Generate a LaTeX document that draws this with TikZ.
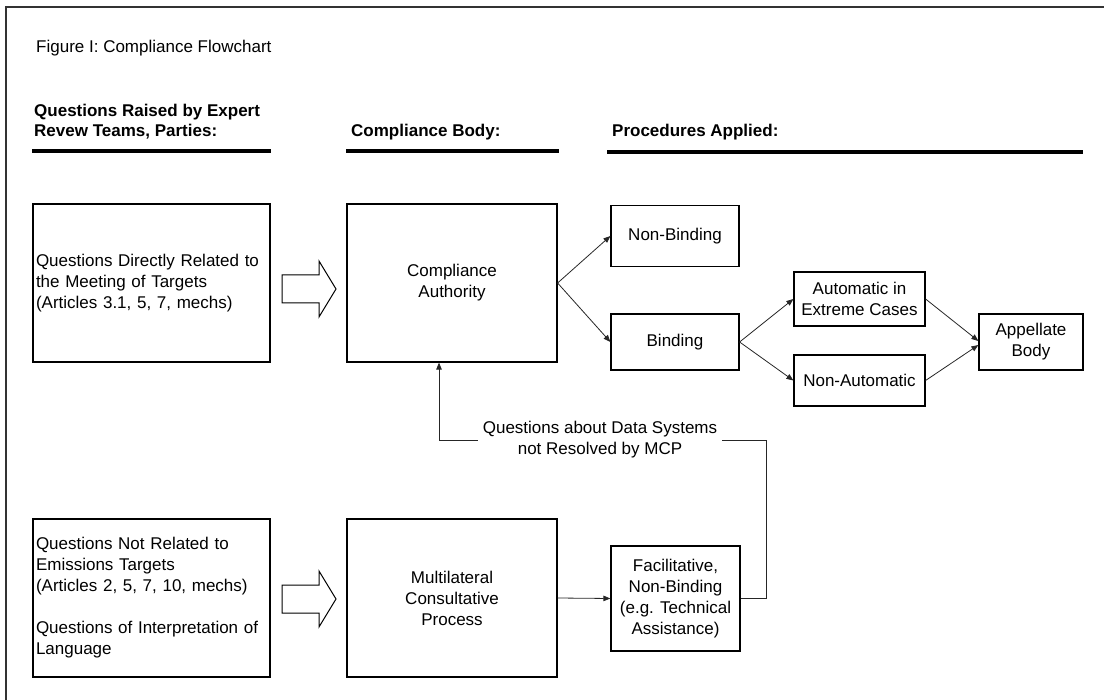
\documentclass[tikz,border=0pt]{standalone}
\usepackage{fontspec}
\setmainfont{Liberation Sans}
\usetikzlibrary{arrows.meta}
\begin{document}
\begin{tikzpicture}[x=1pt,y=-1pt,
  every node/.style={font=\fontsize{17}{21}\selectfont},
  box/.style={draw=black, line width=1.2pt, align=center, inner sep=2pt},
  lbox/.style={draw=black, line width=1.2pt, align=left, inner xsep=3pt, inner ysep=0pt},
  conn/.style={draw=black!85, line width=0.8pt, -{Triangle[length=7pt,width=5.5pt]}},
  hdr/.style={font=\fontsize{17}{20}\selectfont\bfseries, align=left, anchor=west, inner sep=0pt},
  rulebar/.style={line width=4pt},
  blockarrow/.style={draw=black, line width=1pt, fill=white},
  frameline/.style={line width=1.5pt, draw=black!80}]
\useasboundingbox (0,0) rectangle (1104,700);
% frame
\draw[frameline] (6,700) -- (6,7) -- (1104,7);
% title and headers
\node[anchor=west, inner sep=0pt] (title) at (36,48) {Figure I: Compliance Flowchart};
\node[hdr] (h1) at (34,122) {Questions Raised by Expert\\Revew Teams, Parties:};
\node[hdr] (h2) at (351,132) {Compliance Body:};
\node[hdr] (h3) at (612,132) {Procedures Applied:};
\draw[rulebar] (32,151) -- (271,151);
\draw[rulebar] (346,151) -- (559,151);
\draw[rulebar] (607,152) -- (1083,152);
% boxes
\node[lbox, text width=231pt, minimum height=158pt] (q1) at (151.5,283)
  {Questions Directly Related to\\the Meeting of Targets\\(Articles 3.1, 5, 7, mechs)};
\node[box, minimum width=210pt, minimum height=158pt] (ca) at (452,283) {Compliance\\Authority};
\node[box, minimum width=128pt, minimum height=61pt] (nb) at (675,236) {Non-Binding};
\node[box, minimum width=128pt, minimum height=56pt] (bd) at (675,342) {Binding};
\node[box, minimum width=131pt, minimum height=54pt] (au) at (859.5,299) {Automatic in\\Extreme Cases};
\node[box, minimum width=131pt, minimum height=51pt] (na) at (859.5,380.5) {Non-Automatic};
\node[box, minimum width=104pt, minimum height=56pt] (ap) at (1031,342) {Appellate\\Body};
\node[lbox, text width=231pt, minimum height=158pt] (q2) at (151.5,598)
  {Questions Not Related to\\Emissions Targets\\(Articles 2, 5, 7, 10, mechs)\\[21pt]Questions of Interpretation of\\Language};
\node[box, minimum width=210pt, minimum height=158pt] (mcp) at (452,598) {Multilateral\\Consultative\\Process};
\node[box, minimum width=129pt, minimum height=105pt] (fac) at (675.5,598.5) {Facilitative,\\Non-Binding\\(e.g. Technical\\Assistance)};
% block arrows
\draw[blockarrow] (282,275) -- (319,275) -- (319,261) -- (336,289) -- (319,317) -- (319,303) -- (282,303) -- cycle;
\draw[blockarrow] (282,585) -- (319,585) -- (319,571) -- (336,599) -- (319,627) -- (319,613) -- (282,613) -- cycle;
% connectors
\draw[conn] (ca.east) -- (nb.west);
\draw[conn] (ca.east) -- (bd.west);
\draw[conn] (bd.east) -- (au.west);
\draw[conn] (bd.east) -- (na.west);
\draw[conn] (au.east) -- ([yshift=1pt]ap.west);
\draw[conn] (na.east) -- ([yshift=-3pt]ap.west);
\draw[conn] (mcp.east) -- (fac.west);
\coordinate (fbr) at (766,440);
\coordinate (fbl) at (439,440);
\draw[conn] (fac.east) -| (fbr) -- (fbl) -- (fbl |- ca.south);
\node[fill=white, align=center, inner xsep=5pt, inner ysep=1pt] (lbl) at (600,440)
  {Questions about Data Systems\\not Resolved by MCP};
\end{tikzpicture}
\end{document}
